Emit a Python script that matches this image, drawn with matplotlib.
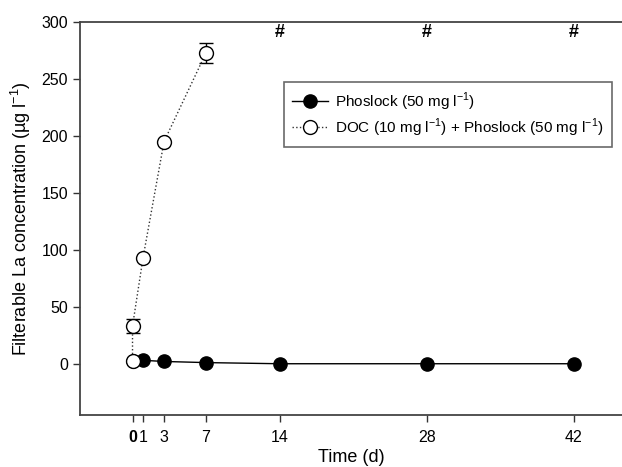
import matplotlib
matplotlib.use("Agg")
import matplotlib.pyplot as plt
from matplotlib.lines import Line2D

plt.rcParams['font.family'] = ['Liberation Sans', 'DejaVu Sans']

# Data
phos_t = [0, 1, 3, 7, 14, 28, 42]
phos_v = [2, 3, 2, 1, 0, 0, 0]
doc_t = [0, 0, 1, 3, 7]
doc_v = [2, 33, 93, 195, 273]
doc_err = [0, 6, 0, 0, 9]
xticks = [0, 1, 3, 7, 14, 28, 42]
xticklabels = ['0', '1', '3', '7', '14', '28', '42']
yticks = [0, 50, 100, 150, 200, 250, 300]
hash_t = [14, 28, 42]
hash_y = 291
labels = ['Phoslock (50 mg l$^{\\mathregular{-1}}$)',
          'DOC (10 mg l$^{\\mathregular{-1}}$) + Phoslock (50 mg l$^{\\mathregular{-1}}$)']

fig = plt.figure(figsize=(6.22, 4.67), dpi=100)
ax = fig.add_axes([80/622, 1-415/467, 1-80/622, (415-22)/467])

l1, = ax.plot(phos_t, phos_v, '-', color='black', lw=1.0, marker='o', ms=9.5,
              mfc='black', mec='black', zorder=3)
ax.errorbar(doc_t, doc_v, yerr=doc_err, fmt='none', ecolor='black', elinewidth=1.0,
            capsize=5, capthick=1.0, zorder=4)
l2, = ax.plot(doc_t, doc_v, ls=':', color='#333333', lw=1.0, marker='o',
              ms=10, mfc='white', mec='black', mew=1.0, zorder=5)

for t in hash_t:
    ax.text(t, hash_y, '#', ha='center', va='center', fontsize=13, fontweight='bold')

ax.set_xlim(-5, 46.6)
ax.set_ylim(-45, 300)
ax.set_xticks(xticks)
ax.set_xticklabels(xticklabels)
ax.get_xticklabels()[0].set_fontweight('bold')
ax.set_yticks(yticks)
ax.tick_params(direction='out', length=5, width=1, labelsize=11.5, color='#333333')
ax.tick_params(axis='x', pad=6)
for s in ['left', 'top', 'bottom']:
    ax.spines[s].set_linewidth(1.3)
    ax.spines[s].set_color('#444444')
ax.spines['right'].set_visible(False)

ax.set_xlabel('Time (d)', fontsize=13, labelpad=3)
ax.set_ylabel('Filterable La concentration (\u00b5g l$^{\\mathregular{-1}}$)', fontsize=13, labelpad=6)

leg = ax.legend([l1, l2], labels, loc='upper left',
                bbox_to_anchor=((284-80)/542, 1-(82-22)/393), borderaxespad=0,
                fontsize=11, frameon=True, fancybox=False, edgecolor='#444444',
                handlelength=2.3, borderpad=0.55, labelspacing=0.25, handletextpad=0.5)
leg.get_frame().set_linewidth(1.2)

fig.savefig('out.png', dpi=100)
